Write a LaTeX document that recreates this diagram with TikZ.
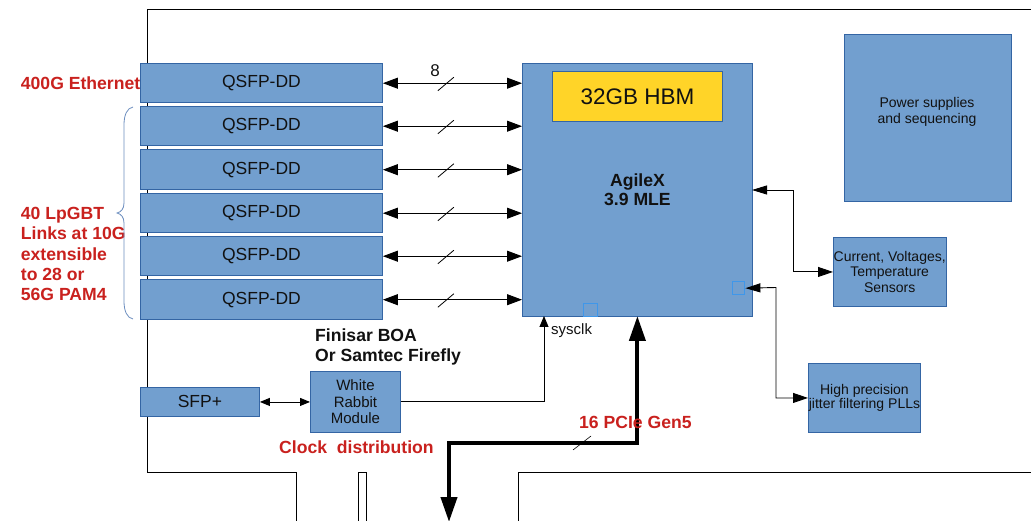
\documentclass[tikz,border=0pt]{standalone}
\usepackage{fontspec}
\setmainfont{Liberation Sans}
\usetikzlibrary{arrows.meta}
\definecolor{boxfill}{HTML}{729FCF}
\definecolor{boxline}{HTML}{3465A4}
\definecolor{hbmfill}{HTML}{FFD428}
\definecolor{lblred}{HTML}{C9211E}
\definecolor{sqblue}{HTML}{3F97EA}
\definecolor{bracecol}{HTML}{6C8EBF}
\definecolor{txt}{HTML}{111111}
\begin{document}
\begin{tikzpicture}[x=1pt,y=-1pt,
  board/.style={draw=black, line width=0.9pt},
  blk/.style={draw=boxline, fill=boxfill, line width=0.9pt, inner sep=0pt, anchor=north west, text=txt, align=center},
  qs/.style={blk, minimum width=242pt, minimum height=39.5pt, font=\fontsize{17.5}{20}\selectfont},
  smallsq/.style={draw=sqblue, line width=1.4pt, inner sep=0pt, anchor=north west},
  redlbl/.style={text=lblred, font=\bfseries\fontsize{17.6}{20.3}\selectfont, inner sep=0pt, align=left},
  blklbl/.style={text=txt, font=\bfseries\fontsize{17.6}{20}\selectfont, inner sep=0pt, align=left},
  biarr/.style={draw=black, line width=0.9pt, {Triangle[length=15pt,width=11pt]}-{Triangle[length=15pt,width=11pt]}},
  sidearr/.style={draw=black, line width=0.9pt, {Triangle[length=15pt,width=9pt]}-{Triangle[length=15pt,width=10pt]}},
  smallarr/.style={draw=black, line width=0.9pt, {Triangle[length=10pt,width=8pt]}-{Triangle[length=10pt,width=8pt]}},
  uparr/.style={draw=black, line width=0.9pt, -{Triangle[length=11pt,width=9pt]}},
  busarr/.style={draw=black, line width=4pt, {Triangle[length=25pt,width=16pt]}-{Triangle[length=25pt,width=16pt]}},
  slash/.style={draw=black, line width=0.8pt}
]
\useasboundingbox (0,0) rectangle (1031,521);

% board outline
\draw[board] (1031,9) -- (147,9) -- (147,472) -- (296,472) -- (296,521);
\draw[board] (358,521) -- (358,472) -- (366,472) -- (366,521);
\draw[board] (518,521) -- (518,472) -- (1031,472);

% QSFP-DD modules
\foreach \i/\y in {1/63,2/106,3/149.5,4/193,5/236,6/279.5}
  \node[qs] (q\i) at (140,\y) {\raisebox{-1.5pt}{QSFP-DD}};

% FPGA
\node[blk, minimum width=230pt, minimum height=252.5pt, font=\bfseries\fontsize{17.6}{19}\selectfont] (agx) at (522,63.5) {AgileX\\3.9 MLE};
\node[blk, fill=hbmfill, minimum width=170pt, minimum height=50pt, font=\fontsize{22.5}{25}\selectfont] (hbm) at (552,71) {32GB HBM};
\node[smallsq, minimum width=14pt, minimum height=13pt] (sq1) at (583,303) {};
\node[smallsq, minimum width=12pt, minimum height=13pt] (sq2) at (732,281) {};

% right side blocks
\node[blk, minimum width=167pt, minimum height=166.5pt] (pwr) at (844,34.5) {};
\node[text=txt, font=\fontsize{14}{16}\selectfont, align=center, inner sep=0pt] (pwrt) at (927,112) {Power supplies\\and sequencing};
\node[blk, minimum width=112.5pt, minimum height=69pt, font=\fontsize{14}{15.5}\selectfont] (cur) at (833,237) {Current, Voltages,\\Temperature\\Sensors};
\node[blk, minimum width=112pt, minimum height=69pt, font=\fontsize{14}{14.5}\selectfont] (pll) at (808,363) {High precision\\jitter filtering PLLs};

% clock blocks
\node[blk, minimum width=119pt, minimum height=29pt, font=\fontsize{17.5}{20}\selectfont] (sfp) at (140,387) {SFP+};
\node[blk, minimum width=90pt, minimum height=61.5pt, font=\fontsize{15}{16.7}\selectfont] (wr) at (310,370.5) {White\\Rabbit\\Module};

% links to QSFP
\foreach \i in {1,...,6}{
  \draw[biarr] (q\i.east) -- (q\i.east -| agx.west);
  \draw[slash] ([shift={(55,7.5)}]q\i.east) -- ++(16,-13.5);
}
\node[text=txt, font=\fontsize{17}{20}\selectfont, inner sep=0pt] (n8) at (435,71) {8};

% side connections
\coordinate (agxr) at (752,190);
\draw[sidearr] (agxr) -- (793,190) |- (cur.west);
\draw[sidearr] (sq2.east) -- (776,287.5) |- (pll.west);

% clock path
\draw[smallarr] (sfp.east) -- (sfp.east -| wr.west);
\coordinate (sc) at (544,316);
\draw[uparr] (wr.east) -| (sc);
\node[text=txt, font=\fontsize{15}{17}\selectfont, inner sep=0pt, anchor=west] (sck) at (551,331) {sysclk};

% PCIe bus
\coordinate (pt) at (637.4,316);
\coordinate (pb) at (449,522);
\draw[busarr] (pt) |- (449,443) -- (pb);
\draw[slash, line width=0.6pt] (573,450) -- (591,436);

% labels
\node[redlbl, anchor=west] (eth) at (20.7,83.5) {400G Ethernet};
\node[redlbl, anchor=west] (lp) at (20.7,254) {40 LpGBT\\Links at 10G\\extensible\\to 28 or\\56G PAM4};
\node[blklbl, anchor=west] (fin) at (315,347) {Finisar BOA\\Or Samtec Firefly};
\node[redlbl, anchor=west] (clk) at (279,447.5) {Clock\hspace{0.28em} distribution};
\node[redlbl, anchor=west] (pcie) at (579,422.5) {16 PCIe Gen5};

% brace
\draw[bracecol, line width=0.8pt] (133,107) .. controls (127,108) and (124,115) .. (124,125) -- (124,203) .. controls (124,209) and (121,212) .. (117,213) .. controls (121,214) and (124,217) .. (124,223) -- (124,301) .. controls (124,311) and (127,318) .. (133,319);
\end{tikzpicture}
\end{document}
